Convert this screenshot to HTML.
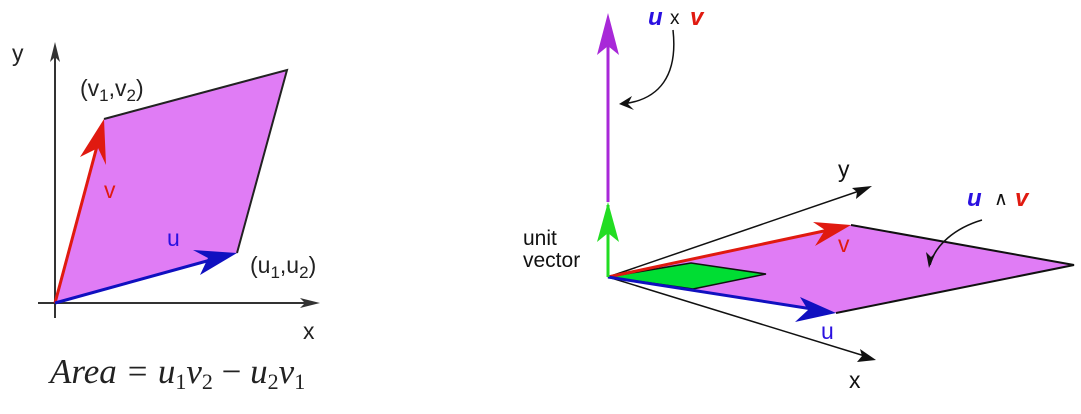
<!DOCTYPE html>
<html><head><meta charset="utf-8"><style>
html,body{margin:0;padding:0;background:#fff;}
svg{display:block;}
text{font-family:"Liberation Sans","DejaVu Sans",sans-serif;}
</style></head><body>
<svg width="1081" height="414" viewBox="0 0 1081 414" xmlns="http://www.w3.org/2000/svg">
<!-- LEFT -->
<polygon points="55,303 104,119 287,70 237,253" fill="#e07cf5"/>
<polyline points="104,119 287,70 237,253" fill="none" stroke="#222" stroke-width="2"/>
<line x1="55" y1="318" x2="55" y2="50" stroke="#333" stroke-width="2"/>
<polygon points="55,42 50,62 55,57 60,62" fill="#333"/>
<line x1="38" y1="303" x2="312" y2="303" stroke="#333" stroke-width="2"/>
<polygon points="320,303 300,298 305,303 300,308" fill="#333"/>
<line x1="55" y1="303" x2="100" y2="135" stroke="#e01a10" stroke-width="3"/>
<polygon points="104,119 80,157 98,148 106,165" fill="#e01a10"/>
<line x1="55" y1="303" x2="225" y2="256" stroke="#1010c0" stroke-width="3"/>
<polygon points="237,253 193,250 208,258 200,275" fill="#1010c0"/>
<text x="12" y="61" font-size="23" fill="#222">y</text>
<text x="80" y="96" font-size="23" fill="#222">(v<tspan font-size="17" dy="5">1</tspan><tspan dy="-5">,v</tspan><tspan font-size="17" dy="5">2</tspan><tspan dy="-5">)</tspan></text>
<text x="104" y="198" font-size="23" fill="#e01a10">v</text>
<text x="167" y="246" font-size="23" fill="#2a10e0">u</text>
<text x="250" y="273" font-size="23" fill="#222">(u<tspan font-size="17" dy="5">1</tspan><tspan dy="-5">,u</tspan><tspan font-size="17" dy="5">2</tspan><tspan dy="-5">)</tspan></text>
<text x="303" y="339" font-size="23" fill="#222">x</text>
<text x="50" y="383" font-size="35" font-style="italic" fill="#222" style="font-family:'Liberation Serif',serif">Area = u<tspan font-size="22" dy="6" font-style="normal">1</tspan><tspan dy="-6">v</tspan><tspan font-size="22" dy="6" font-style="normal">2</tspan><tspan dy="-6" font-style="normal"> − </tspan><tspan>u</tspan><tspan font-size="22" dy="6" font-style="normal">2</tspan><tspan dy="-6">v</tspan><tspan font-size="22" dy="6" font-style="normal">1</tspan></text>

<!-- RIGHT -->
<polygon points="608,277 851,225 1074,265 836,313" fill="#e07cf5"/>
<polyline points="851,225 1074,265 836,313" fill="none" stroke="#111" stroke-width="2"/>
<polygon points="608,277 691,263 766,274 693,289" fill="#00dd33" stroke="#111" stroke-width="1.5"/>
<line x1="608" y1="277" x2="865" y2="189" stroke="#111" stroke-width="1.5"/>
<polygon points="872,186 852,188 857,192 856,199" fill="#111"/>
<line x1="608" y1="277" x2="868" y2="357" stroke="#111" stroke-width="1.5"/>
<polygon points="876,360 860,349 862,356 857,362" fill="#111"/>
<line x1="608" y1="277" x2="838" y2="228" stroke="#e01a10" stroke-width="3"/>
<polygon points="851,225 813,222 825,230 815,246" fill="#e01a10"/>
<line x1="608" y1="277" x2="825" y2="311" stroke="#1010c0" stroke-width="3"/>
<polygon points="836,313 800,297 808,310 795,322" fill="#1010c0"/>
<line x1="608" y1="277" x2="608" y2="205" stroke="#22dd22" stroke-width="3"/>
<polygon points="608,202 597,242 608,233 619,242" fill="#22dd22"/>
<line x1="608" y1="202" x2="608" y2="20" stroke="#a828d8" stroke-width="3"/>
<polygon points="608,13 597,55 608,46 619,55" fill="#a828d8"/>
<path d="M673,30 C678,75 660,100 622,104" fill="none" stroke="#111" stroke-width="1.5"/>
<polygon points="619,104 632,96 628,104 634,110" fill="#111"/>
<path d="M982,220 C955,228 935,245 930,265" fill="none" stroke="#111" stroke-width="1.5"/>
<polygon points="929,268 926,252 931,257 936,252" fill="#111"/>
<text x="523" y="245" font-size="21" fill="#111">unit</text>
<text x="523" y="267" font-size="21" fill="#111">vector</text>
<text x="838" y="177" font-size="23" fill="#111">y</text>
<text x="849" y="388" font-size="23" fill="#111">x</text>
<text x="838" y="252" font-size="23" fill="#e01a10">v</text>
<text x="821" y="339" font-size="23" fill="#2a10e0">u</text>
<text x="648" y="25" font-size="24" fill="#2a10e0" font-weight="bold" font-style="italic">u</text>
<text x="670" y="24" font-size="19" fill="#111">x</text>
<text x="690" y="25" font-size="24" fill="#e01a10" font-weight="bold" font-style="italic">v</text>
<text x="967" y="206" font-size="24" fill="#2a10e0" font-weight="bold" font-style="italic">u</text>
<text x="994" y="205" font-size="19" fill="#111">∧</text>
<text x="1015" y="206" font-size="24" fill="#e01a10" font-weight="bold" font-style="italic">v</text>
</svg>
</body></html>
